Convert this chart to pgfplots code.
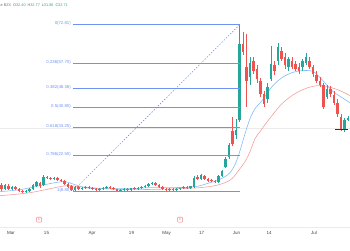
\documentclass[border=0pt]{standalone}
\usepackage{fontspec}
\setmainfont{Liberation Sans}
\usepackage{pgfplots}
\usepackage{pgfplotstable}
\pgfplotsset{compat=1.18}
\definecolor{upc}{RGB}{38,166,154}
\definecolor{dnc}{RGB}{239,83,80}
\definecolor{fibc}{RGB}{112,145,245}
\definecolor{maB}{RGB}{130,190,245}
\definecolor{maR}{RGB}{245,160,155}
\definecolor{epink}{RGB}{245,130,130}
\definecolor{hdr}{RGB}{110,110,110}

\pgfplotstableread{
x o h l c
5 9.68 11.60 9.30 11.22
12 9.68 10.83 9.30 10.45
26 8.53 9.30 8.14 8.91
29.5 8.91 10.07 8.53 9.68
33 9.68 11.60 9.30 11.22
36.5 10.83 12.76 10.45 12.37
43.5 11.22 15.06 10.83 14.29
54 13.52 14.29 13.14 13.91
75 9.30 10.83 8.91 10.45
82 9.68 10.45 9.30 10.07
85.5 10.07 10.83 9.68 10.45
99.5 9.30 10.07 8.91 9.68
103 9.68 10.45 9.30 10.07
106.5 10.07 10.83 9.68 10.45
120.5 8.91 9.68 8.53 9.30
124 9.30 10.07 8.91 9.68
131 9.30 10.07 8.91 9.87
138 9.68 10.45 9.30 10.07
141.5 10.07 10.83 9.68 10.45
145 10.45 11.22 10.07 10.83
148.5 10.83 11.99 10.45 11.60
152 11.60 12.37 11.22 11.99
169.5 9.30 10.07 8.91 9.68
176.5 9.30 10.07 8.91 9.68
180 9.68 10.07 9.30 9.87
183.5 9.87 10.83 9.68 10.45
190.5 10.07 10.83 9.68 10.64
194 10.45 14.68 10.07 13.91
201 13.52 15.45 13.14 15.06
218.5 12.37 15.06 11.99 14.68
222 14.68 16.98 14.29 16.60
225.5 18.13 21.98 17.75 21.21
229 21.98 27.35 21.21 26.59
236 30.43 36.58 28.89 32.35
239.5 36.19 72.81 35.43 65.39
250 52.71 60.40 49.64 58.09
267.5 44.26 50.41 42.72 48.87
271 51.95 64.63 51.18 57.71
278 58.86 65.78 57.33 64.24
288.5 56.56 60.40 55.02 59.63
302.5 56.56 59.63 55.02 58.86
306 58.09 61.94 57.33 60.40
327 45.03 49.64 44.26 48.10
344.5 32.35 36.96 31.58 36.19
348 36.19 37.73 35.81 36.96
}\up

\pgfplotstableread{
x o h l c
1.5 11.22 11.99 8.91 9.68
8.5 10.83 11.60 9.30 9.68
15.5 10.45 10.83 9.30 9.68
19 9.68 10.07 8.53 8.91
22.5 8.91 9.30 8.14 8.53
40 11.99 12.37 10.07 10.83
47 14.29 14.68 13.52 13.91
50.5 13.91 14.29 13.14 13.52
57.5 13.91 14.29 12.76 13.14
61 13.14 13.52 12.37 12.76
64.5 12.76 13.14 11.22 11.60
68 11.60 11.99 10.07 10.45
71.5 10.83 11.22 8.80 9.30
78.5 10.45 10.83 9.30 9.68
89 10.45 10.83 9.68 10.07
92.5 10.07 10.45 9.30 9.68
96 9.68 10.07 8.91 9.30
110 10.45 10.83 9.68 10.07
113.5 10.07 10.45 9.30 9.68
117 9.68 9.68 8.53 8.91
127.5 9.68 10.07 8.91 9.30
134.5 9.87 10.45 9.30 9.68
155.5 11.99 12.37 10.83 11.22
159 11.22 11.60 10.07 10.45
162.5 10.45 10.83 9.30 9.68
166 9.68 10.07 8.91 9.30
173 9.68 10.07 8.91 9.30
187 10.45 10.83 9.68 10.07
197.5 14.29 15.06 13.14 13.52
204.5 14.68 15.06 13.14 13.52
208 13.52 13.91 12.37 12.76
211.5 13.14 13.52 12.37 12.76
215 12.76 13.14 11.99 12.37
232.5 31.97 37.35 26.20 26.97
243 65.39 70.00 61.17 62.32
246.5 56.56 69.23 41.19 51.18
253.5 58.86 60.40 53.87 55.02
257 55.79 57.33 50.41 51.95
260.5 51.18 52.33 45.03 46.18
264 46.18 47.33 41.19 42.34
274.5 57.33 58.86 53.48 55.02
281.5 62.70 64.24 58.86 59.63
285 60.40 61.94 55.79 57.33
292 58.86 60.40 55.79 56.56
295.5 57.71 58.86 55.02 55.79
299 56.56 58.09 53.87 55.02
309.5 58.86 60.40 55.79 56.56
313 56.56 57.33 52.71 53.87
316.5 53.48 55.02 50.41 51.18
320 51.18 52.71 48.87 49.64
323.5 49.64 50.41 40.42 41.19
330.5 48.10 49.26 45.03 46.18
334 45.80 47.33 41.95 42.72
337.5 42.72 44.26 37.35 38.50
341 37.35 38.50 31.97 32.35
}\down

\pgfplotsset{
  wick/.style={draw=none, mark=none, forget plot,
    error bars/.cd, y dir=both, y explicit, error mark=none,
    error bar style={draw=#1, solid, line width=0.6pt}},
  body/.style={draw=none, mark=none, forget plot,
    error bars/.cd, y dir=both, y explicit, error mark=none,
    error bar style={draw=#1, solid, line width=2.2pt}},
  fibline/.style={draw=fibc, mark=none, line width=0.6pt, solid},
}
\tikzset{
  fiblab/.style={anchor=east, text=fibc, font=\fontsize{4.3}{5}\selectfont, inner sep=0pt, yshift=0.8pt},
  evt/.style={draw=epink, rounded corners=0.8pt, inner sep=0.5pt, line width=0.5pt, text=epink, font=\fontsize{3.5}{4}\selectfont, minimum width=5pt, minimum height=5pt},
}

\begin{document}
\begin{tikzpicture}
\begin{axis}[
  at={(0pt,23pt)}, anchor=south west,
  width=350pt, height=227pt, scale only axis,
  xmin=0, xmax=350, ymin=-5.05, ymax=82.16,
  clip=false,
  axis x line=bottom, axis y line=none,
  x axis line style={-, draw=black!8, line width=0.6pt},
  xtick={11,46.5,92,131.5,166.5,201.5,236.5,269,314},
  xticklabels={Mar,15,Apr,19,May,17,Jun,14,Jul},
  major tick length=0pt,
  xticklabel style={font=\fontsize{4.5}{5}\selectfont, text=black!75, yshift=-1.2pt},
  ytick=\empty,
]
% price line
\addplot[draw=black!8, mark=none, line width=0.5pt] coordinates {(0,32.71) (350,32.71)};
% moving averages
\addplot[draw=maR, mark=none, line width=0.6pt, smooth] coordinates {
(0,6.99) (30,8.14) (60,10.45) (70,10.83) (90,10.07) (130,9.30) (180,9.68) (200,10.07)
(215,10.83) (225,11.99) (232,13.52) (240,17.37) (245,20.05) (250,23.90) (255,28.89)
(260,31.58) (268,35.81) (282,42.34) (295,46.18) (308,48.49) (318,49.26) (328,48.87)
(340,47.33) (350,45.42)};
\addplot[draw=maB, mark=none, line width=0.6pt, smooth] coordinates {
(0,8.53) (20,9.30) (40,10.83) (55,11.99) (65,12.37) (75,11.22) (85,10.07) (100,9.68)
(130,9.68) (150,10.07) (170,10.07) (190,10.26) (200,10.83) (210,11.99) (217,12.76)
(225,14.29) (230,15.83) (235,18.90) (240,24.28) (245,30.81) (250,36.58) (255,40.42)
(262,43.49) (272,48.87) (282,52.33) (292,54.25) (302,55.02) (310,55.02) (315,54.25)
(322,51.56) (332,47.33) (342,44.65) (350,42.72)};
% candles
\addplot[wick=upc] table[x=x, y expr={(\thisrow{h}+\thisrow{l})/2}, y error expr={(\thisrow{h}-\thisrow{l})/2}] \up;
\addplot[wick=dnc] table[x=x, y expr={(\thisrow{h}+\thisrow{l})/2}, y error expr={(\thisrow{h}-\thisrow{l})/2}] \down;
\addplot[body=upc] table[x=x, y expr={(\thisrow{o}+\thisrow{c})/2}, y error expr={abs(\thisrow{c}-\thisrow{o})/2}] \up;
\addplot[body=dnc] table[x=x, y expr={(\thisrow{o}+\thisrow{c})/2}, y error expr={abs(\thisrow{c}-\thisrow{o})/2}] \down;
% fibonacci retracement
\addplot[draw=fibc, mark=none, line width=0.6pt, dash pattern=on 1.4pt off 1.6pt] coordinates {(73,8.80) (240,72.81)};
\addplot[fibline] coordinates {(73,72.81) (240,72.81)};
\addplot[fibline] coordinates {(73,57.70) (240,57.70)};
\addplot[fibline] coordinates {(73,48.36) (240,48.36)};
\addplot[fibline] coordinates {(73,40.80) (240,40.80)};
\addplot[fibline] coordinates {(73,33.25) (240,33.25)};
\addplot[fibline] coordinates {(73,22.50) (240,22.50)};
\addplot[fibline] coordinates {(73,8.80) (240,8.80)};
\node[fiblab] at (axis cs:71,72.81) {0(72.81)};
\node[fiblab] at (axis cs:71,57.70) {0.236(57.70)};
\node[fiblab] at (axis cs:71,48.36) {0.382(48.36)};
\node[fiblab] at (axis cs:71,40.80) {0.5(40.80)};
\node[fiblab] at (axis cs:71,33.25) {0.618(33.25)};
\node[fiblab] at (axis cs:71,22.50) {0.786(22.50)};
\node[fiblab] at (axis cs:71,8.80) {1(8.80)};
% marker line
\addplot[draw=black!80, mark=none, line width=0.9pt] coordinates {(335,32.45) (348,32.45)};
% events
\node[evt] at (axis cs:39,-2.23) {E};
\node[evt] at (axis cs:180,-2.23) {E};
% header
\node[anchor=west, inner sep=0pt, font=\fontsize{3.8}{4.5}\selectfont] at (axis cs:-1.5,79.99)
  {\textcolor{hdr}{ce BZX}\hspace{2pt}\textcolor{hdr}{O}\textcolor{upc}{32.40}\hspace{2pt}\textcolor{hdr}{H}\textcolor{upc}{32.77}\hspace{2pt}\textcolor{hdr}{L}\textcolor{upc}{31.86}\hspace{2pt}\textcolor{hdr}{C}\textcolor{upc}{32.71}};
\end{axis}
\pgfresetboundingbox
\useasboundingbox (0,0) rectangle (350pt,250pt);
\end{tikzpicture}
\end{document}
